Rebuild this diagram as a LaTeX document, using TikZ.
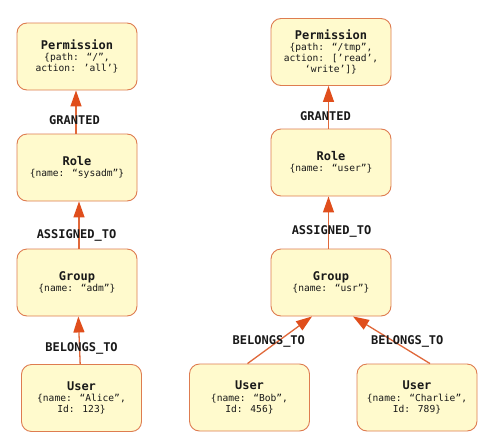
\documentclass[tikz,border=0pt]{standalone}
\usepackage{fontspec}
\usepackage{tikz}
\usetikzlibrary{arrows.meta}
\newfontfamily\codefont{DejaVu Sans Mono}
\definecolor{boxfill}{HTML}{FFFACD}
\definecolor{boxline}{HTML}{DE7C50}
\definecolor{relline}{HTML}{E0683A}
\definecolor{tipfill}{HTML}{E04E1C}
\tikzset{
	entity/.style={draw=boxline, fill=boxfill, rounded corners=10pt, line width=0.9pt,
		minimum width=120pt, minimum height=67pt, inner sep=2pt, align=center,
		font=\codefont\fontsize{9.6}{11.2}\selectfont, text=black!90},
	rel/.style={color=relline, line width=1.3pt,
		-{Triangle[length=16pt,width=11pt,color=tipfill,fill=tipfill]}},
	rellabel/.style={font=\codefont\bfseries\fontsize{12}{14}\selectfont, text=black!90}
}
\newcommand{\ent}[2]{{\bfseries\fontsize{12}{12.5}\selectfont #1}\\#2}

\begin{document}
\begin{tikzpicture}[x=1pt,y=-1pt]
		%%%%% START %%%%%
		\useasboundingbox[fill=white] (0,0) rectangle (489,447);
		
		% left column
		\node[entity] (perm1) at (77, 56.5) {\ent{Permission}{\{path: “/”,\\action: ’all’\}}};
		\node[entity] (role1) at (77, 167.5) {\ent{Role}{\{name: “sysadm”\}}};
		\node[entity] (group1) at (77, 282.5) {\ent{Group}{\{name: “adm”\}}};
		\node[entity] (alice) at (81.5, 398) {\ent{User}{\{name: “Alice”,\\Id: 123\}}};
		
		\draw[rel] ([xshift=-1pt]role1.north) -- node[rellabel, pos=0.32, xshift=-1.5] {GRANTED} ([xshift=-1pt]perm1.south);
		\draw[rel] ([xshift=2pt]group1.north) -- node[rellabel, pos=0.28, xshift=-2.5] {ASSIGNED\_TO} ([xshift=2pt]role1.south);
		\draw[rel] (alice) -- node[rellabel, pos=0.32, xshift=2] {BELONGS\_TO} (group1);
		
		% right column
		\node[entity] (perm2) at (331, 52) {\ent{Permission}{\{path: “/tmp”,\\action: [’read’,\\‘write’]\}}};
		\node[entity] (role2) at (331, 162.5) {\ent{Role}{\{name: “user”\}}};
		\node[entity] (group2) at (331, 282.5) {\ent{Group}{\{name: “usr”\}}};
		\node[entity] (bob) at (249.5, 397.5) {\ent{User}{\{name: “Bob”,\\Id: 456\}}};
		\node[entity] (charlie) at (417, 397.5) {\ent{User}{\{name: “Charlie”,\\Id: 789\}}};
		
		\draw[rel] ([xshift=-2.5pt]role2.north) -- node[rellabel, pos=0.3, xshift=-3] {GRANTED} ([xshift=-2.5pt]perm2.south);
		\draw[rel] ([xshift=-2.5pt]group2.north) -- node[rellabel, pos=0.33, xshift=3] {ASSIGNED\_TO} ([xshift=-2.5pt]role2.south);
		\draw[rel] ([xshift=-2pt]bob.north) -- node[rellabel, pos=0.47, xshift=-9] {BELONGS\_TO} ([xshift=-19pt]group2.south);
		\draw[rel] ([xshift=13pt]charlie.north) -- node[rellabel, pos=0.47, xshift=13.5] {BELONGS\_TO} ([xshift=22pt]group2.south);
		%%%%% END %%%%%
\end{tikzpicture}
\end{document}
